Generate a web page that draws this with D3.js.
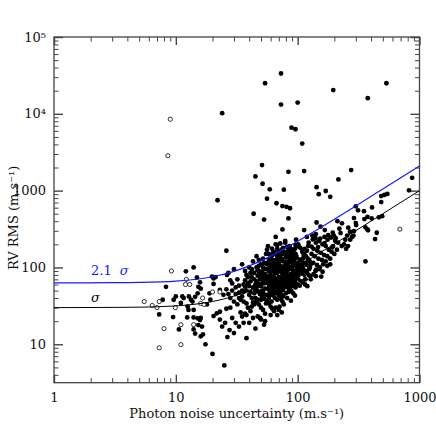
<!DOCTYPE html>
<html>
<head>
<meta charset="utf-8">
<script src="https://cdn.jsdelivr.net/npm/d3@7"></script>
<style>
  body { margin: 0; background: #fff; }
  svg { display: block; }
</style>
</head>
<body>
<svg id="chart"></svg>
<script>
// tick values and labels
const xTicks = [1, 10, 100, 1000];
const xTickLabels = ["1", "10", "100", "1000"];
const yTicks = [10, 100, 1000, 10000, 100000];
const yTickLabels = ["10", "100", "1000", "10⁴", "10⁵"];

// model curves (sigma and 2.1 sigma)
const curvePhoton = [1, 3, 5, 10, 20, 30, 40, 50, 70, 100, 150, 200, 300, 500, 1000];
const sigmaRms = [30, 30.2, 30.4, 31.6, 36, 42.4, 50, 58.3, 76, 104, 153, 202, 301, 501, 1000];
const sigma21Rms = [63, 63.3, 63.8, 66.4, 75.7, 89, 105, 122, 160, 219, 321, 425, 633, 1052, 2100];

// open circles: [photon noise, RV rms]
const openStars = [
  [9.0, 8500], [8.6, 2850], [9.2, 90], [5.5, 36], [6.4, 32], [7.3, 36], [7.0, 30], [9.9, 30],
  [8.0, 16], [7.3, 9.0], [11, 9.9], [11, 18], [12, 60], [13, 60], [12.2, 70], [16, 34],
  [14, 18], [16.6, 40], [108, 74], [690, 315], [17, 33], [20, 48], [23, 48]
];

// filled circles: [photon noise, RV rms]
const filledStars = [
  [24, 10200], [54, 25000], [73, 33500], [73, 13200], [100, 14000], [196, 20400], [376, 16000], [535, 25000],
  [89, 6600], [96, 6300], [109, 4100],
  [51, 2150], [45, 1530], [51.5, 1230], [59, 1040], [77, 1030], [84, 1760], [113, 1800], [143, 1110],
  [149, 900], [170, 990], [185, 830], [216, 1400], [275, 1850], [870, 1470], [820, 1010],
  [485, 850], [515, 880], [545, 905], [485, 710], [300, 625], [313, 555], [350, 540], [408, 605],
  [290, 440], [300, 378], [302, 356], [353, 427], [374, 455], [405, 435], [463, 450], [494, 465],
  [360, 333], [374, 313], [378, 305], [269, 292], [290, 298], [287, 260], [446, 283], [432, 234],
  [246, 229], [259, 190], [360, 120],
  [67, 685], [75, 630], [81, 615], [86.5, 590], [84, 435], [75, 313], [66, 250], [79, 222],
  [212, 400], [231, 375], [143, 385], [154, 340], [167, 307], [178, 263], [194, 283], [203, 222],
  [192, 183], [133, 232], [141, 210], [153, 238], [166, 208], [147, 184], [119, 250], [123, 210],
  [130, 187], [119, 165], [102, 187], [109, 169], [112, 145], [121, 121], [96, 196], [90, 160],
  [97, 144], [105, 125], [109, 104], [97.5, 107], [101, 92], [142, 94], [141, 77], [156, 76],
  [71, 31], [68, 24],
  [22, 750], [56, 785], [43.5, 500], [53, 420], [26, 165], [57, 190], [61.5, 176], [63, 159],
  [20, 7.5], [25, 5.3], [38, 12], [26.5, 12.4], [17.5, 10], [16.7, 13.5], [16.4, 17], [24, 17],
  [25.4, 19], [23, 21], [36, 19], [35, 23], [38, 24], [49, 22], [54, 20], [60, 24],
  [8.3, 56], [7.8, 38], [7.3, 24.5], [9.5, 22.6], [10.6, 15.6], [12.1, 89], [14, 100], [14.9, 74],
  [15.3, 56], [16, 53], [15.1, 46], [9.6, 38], [10, 42], [11, 34.6], [11.3, 42], [11.6, 40],
  [12.8, 42], [13.3, 38], [13.7, 36], [12.5, 31], [12.7, 28], [12.4, 22.4], [14, 22.4], [15.1, 21.8],
  [16, 22], [15.3, 17.8], [14, 15.6], [14.4, 13.8], [16, 12.7],
  [15.8, 64], [14.4, 41.5], [18.9, 46], [20.4, 61], [20.4, 72], [19.8, 76], [21.2, 75], [26.3, 80],
  [28, 68], [23, 51], [24.6, 44], [19.2, 38], [18, 33], [14, 28], [15.8, 20.7], [20.4, 23.3],
  [21.7, 25.3], [23, 26.5], [27.6, 15.3],
  [113, 307], [68, 196], [72, 205], [141, 272], [166, 250],
  // dense core
  [27, 85], [29, 62], [31, 55], [33, 47], [28, 40], [30, 36], [32, 33], [26, 29], [34, 26], [29, 22],
  [31, 19], [33, 17], [30, 14], [27, 45], [32, 70], [34, 38], [28, 30], [26, 52], [33, 58], [30, 95],
  [35, 110], [37, 90], [39, 75], [41, 66], [36, 60], [43, 55], [38, 50], [40, 44], [42, 40], [36, 36],
  [44, 33], [39, 30], [41, 27], [37, 25], [43, 22], [40, 19], [45, 16], [38, 80], [42, 95], [44, 70],
  [36, 48], [40, 57], [44, 46], [35, 42], [38, 34], [42, 31], [45, 60], [37, 68], [43, 120], [41, 85],
  [46, 140], [48, 125], [50, 110], [52, 100], [47, 92], [49, 85], [51, 78], [53, 72], [46, 66], [48, 61],
  [50, 57], [54, 53], [47, 49], [49, 45], [51, 42], [53, 39], [46, 36], [48, 33], [50, 30], [52, 28],
  [54, 25], [47, 23], [50, 21], [53, 18], [55, 150], [49, 70], [52, 64], [54, 82], [46, 55], [51, 50],
  [55, 44], [48, 105], [53, 115], [50, 38], [55, 34],
  [56, 170], [58, 150], [60, 135], [62, 125], [57, 115], [59, 105], [61, 97], [63, 90], [65, 83], [56, 77],
  [58, 71], [60, 66], [62, 61], [64, 57], [57, 53], [59, 49], [61, 46], [63, 43], [65, 40], [56, 37],
  [58, 34], [60, 31], [62, 29], [64, 27], [57, 44], [59, 88], [61, 74], [63, 110], [65, 100], [58, 60],
  [60, 52], [62, 68], [64, 120], [56, 95], [60, 80], [63, 64], [58, 40], [61, 36],
  [66, 200], [68, 175], [70, 160], [72, 145], [74, 130], [76, 120], [67, 110], [69, 102], [71, 95], [73, 88],
  [75, 82], [77, 76], [66, 71], [68, 66], [70, 62], [72, 58], [74, 54], [76, 51], [67, 48], [69, 45],
  [71, 42], [73, 39], [75, 36], [77, 33], [66, 30], [70, 28], [74, 26], [68, 85], [72, 105], [76, 98],
  [70, 75], [74, 68], [66, 58], [78, 63], [68, 140], [72, 125], [76, 150], [70, 52], [74, 44], [77, 90],
  [79, 210], [82, 185], [85, 165], [88, 150], [91, 138], [94, 128], [80, 118], [83, 110], [86, 102], [89, 96],
  [92, 90], [95, 84], [81, 79], [84, 74], [87, 70], [90, 66], [93, 62], [80, 58], [83, 55], [86, 52],
  [89, 49], [92, 46], [95, 43], [82, 40], [88, 37], [84, 94], [90, 115], [93, 105], [80, 135], [86, 125],
  [92, 160], [95, 175], [87, 82], [91, 76], [82, 66],
  [97, 230], [101, 200], [105, 180], [109, 160], [113, 150], [117, 140], [121, 130], [125, 122], [99, 115], [103, 108],
  [107, 100], [111, 95], [115, 90], [119, 86], [123, 80], [127, 77], [100, 72], [105, 68], [110, 64], [115, 60],
  [120, 57], [98, 135], [104, 125], [112, 115], [118, 108], [126, 100], [102, 92], [108, 84], [114, 175], [122, 190],
  [132, 260], [140, 240], [150, 220], [160, 200], [170, 190], [135, 175], [145, 165], [155, 155], [165, 145], [180, 170],
  [190, 160], [138, 140], [148, 130], [158, 125], [170, 120], [185, 130], [134, 115], [144, 108], [152, 100], [162, 110],
  [175, 105], [195, 190], [140, 90], [130, 150], [176, 230], [188, 245], [198, 260],
  [205, 240], [215, 210], [225, 280], [240, 200], [255, 260], [270, 230], [210, 170], [230, 190], [250, 175], [280, 250],
  [220, 320], [260, 330],
  // more of the dense core
  [47, 78], [49, 58], [51, 88], [53, 62], [55, 70], [52, 47], [45, 50], [57, 63], [59, 56], [61, 58],
  [63, 52], [65, 62], [67, 55], [69, 60], [71, 66], [73, 72], [75, 60], [77, 55], [79, 70], [81, 88],
  [83, 64], [85, 60], [87, 58], [89, 72], [91, 84], [93, 72], [95, 66], [97, 80], [99, 95], [101, 78],
  [103, 85], [106, 90], [108, 110], [110, 130], [66, 90], [68, 100], [70, 115], [72, 92], [74, 100], [76, 88],
  [78, 105], [80, 96], [82, 100], [84, 120], [86, 140], [88, 128], [90, 100], [92, 120], [94, 140], [96, 150],
  [58, 125], [60, 110], [62, 100], [64, 75], [66, 125], [68, 120], [70, 135], [72, 160], [74, 170], [76, 180],
  [78, 160], [80, 155], [82, 145], [84, 170], [86, 190], [88, 175], [54, 95], [56, 110], [58, 90], [62, 145],
  [64, 160], [66, 150], [50, 75], [48, 90], [46, 100], [52, 130], [44, 85], [42, 75], [40, 100], [39, 62],
  [37, 56], [35, 50], [33, 40], [31, 45], [29, 50], [45, 40], [47, 38], [43, 35], [41, 48], [60, 44],
  [64, 46], [68, 38], [72, 48], [76, 42], [80, 46], [84, 48], [88, 56], [92, 58], [96, 55], [100, 60],
  [104, 58], [108, 72], [112, 78], [116, 70], [124, 95], [128, 110], [128, 70], [135, 82], [150, 95], [160, 88],
  [175, 140], [200, 150], [185, 110]
];

const render = () => {
  const size = {width: 436, height: 436};
  const frame = {left: 54, right: 419.5, top: 37, bottom: 382.7};
  const axisColor = "#444";
  const font = "'DejaVu Serif', serif";

  const x = d3.scaleLog().domain([1, 1000]).range([frame.left, frame.right]);
  const y = d3.scaleLog().domain([Math.sqrt(10), 1e5]).range([frame.bottom, frame.top]);

  const xMinor = [];
  [1, 10, 100].forEach(d => d3.range(2, 10).forEach(k => xMinor.push(d * k)));
  const yMinor = [];
  [1, 10, 100, 1000, 10000].forEach(d => d3.range(2, 10).forEach(k => {
    if (d * k >= y.domain()[0]) yMinor.push(d * k);
  }));

  const svg = d3.select("#chart")
    .attr("width", size.width)
    .attr("height", size.height)
    .attr("viewBox", `0 0 ${size.width} ${size.height}`);

  const drawAxis = (axis, transform) => svg.append("g")
    .attr("transform", transform)
    .call(axis)
    .call(g => g.select(".domain").remove())
    .call(g => g.selectAll("line").attr("stroke", axisColor))
    .attr("font-family", font)
    .attr("font-size", 13);

  // minor ticks on four sides
  drawAxis(d3.axisBottom(x).tickValues(xMinor).tickSize(-4.5).tickFormat(""), `translate(0,${frame.bottom})`);
  drawAxis(d3.axisTop(x).tickValues(xMinor).tickSize(-4.5).tickFormat(""), `translate(0,${frame.top})`);
  drawAxis(d3.axisLeft(y).tickValues(yMinor).tickSize(-4.5).tickFormat(""), `translate(${frame.left},0)`);
  drawAxis(d3.axisRight(y).tickValues(yMinor).tickSize(-4.5).tickFormat(""), `translate(${frame.right},0)`);

  // major ticks
  const xb = drawAxis(d3.axisBottom(x).tickValues(xTicks).tickSize(-8).tickPadding(10)
    .tickFormat((d, i) => xTickLabels[i]), `translate(0,${frame.bottom})`);
  drawAxis(d3.axisTop(x).tickValues(xTicks).tickSize(-8).tickFormat(""), `translate(0,${frame.top})`);
  const yl = drawAxis(d3.axisLeft(y).tickValues(yTicks).tickSize(-9).tickPadding(8)
    .tickFormat((d, i) => yTickLabels[i]), `translate(${frame.left},0)`);
  drawAxis(d3.axisRight(y).tickValues(yTicks).tickSize(-9).tickFormat(""), `translate(${frame.right},0)`);
  svg.selectAll("g.tick line").filter(d => xTicks.includes(d) || yTicks.includes(d))
    .attr("stroke-width", 1.4);
  xb.selectAll("text").attr("fill", "#111");
  yl.selectAll("text").attr("fill", "#111");

  // frame
  svg.append("rect")
    .attr("x", frame.left)
    .attr("y", frame.top)
    .attr("width", frame.right - frame.left)
    .attr("height", frame.bottom - frame.top)
    .attr("fill", "none")
    .attr("stroke", axisColor)
    .attr("stroke-width", 1.3);

  svg.append("clipPath").attr("id", "plot-clip")
    .append("rect")
    .attr("x", frame.left)
    .attr("y", frame.top)
    .attr("width", frame.right - frame.left)
    .attr("height", frame.bottom - frame.top);

  // points
  svg.append("g")
    .selectAll("circle")
    .data(filledStars)
    .join("circle")
    .attr("cx", d => x(d[0]))
    .attr("cy", d => y(d[1]))
    .attr("r", 2.4)
    .attr("fill", "#000");

  svg.append("g")
    .selectAll("circle")
    .data(openStars)
    .join("circle")
    .attr("cx", d => x(d[0]))
    .attr("cy", d => y(d[1]))
    .attr("r", 2.1)
    .attr("fill", "#fff")
    .attr("stroke", "#000")
    .attr("stroke-width", 0.8);

  // model curves
  const line = vals => d3.line()
    .x((d, i) => x(curvePhoton[i]))
    .y((d, i) => y(vals[i]))
    .curve(d3.curveMonotoneX)(vals);

  const curves = svg.append("g").attr("clip-path", "url(#plot-clip)");
  curves.append("path")
    .attr("d", line(sigmaRms))
    .attr("fill", "none")
    .attr("stroke", "#000")
    .attr("stroke-width", 1);
  curves.append("path")
    .attr("d", line(sigma21Rms))
    .attr("fill", "none")
    .attr("stroke", "#1a1aff")
    .attr("stroke-width", 1.2);

  // curve labels
  svg.append("text")
    .attr("x", 91)
    .attr("y", 275)
    .attr("fill", "#1a1aff")
    .attr("font-family", font)
    .attr("font-size", 13)
    .html("2.1 <tspan font-style='italic' dx='4'>σ</tspan>");
  svg.append("text")
    .attr("x", 91)
    .attr("y", 302)
    .attr("fill", "#000")
    .attr("font-family", font)
    .attr("font-size", 13)
    .attr("font-style", "italic")
    .text("σ");

  // axis titles
  svg.append("text")
    .attr("x", (frame.left + frame.right) / 2)
    .attr("y", 418)
    .attr("text-anchor", "middle")
    .attr("fill", "#111")
    .attr("font-family", font)
    .attr("font-size", 13)
    .text("Photon noise uncertainty (m.s⁻¹)");
  svg.append("text")
    .attr("transform", `translate(18,${(frame.top + frame.bottom) / 2 + 8}) rotate(-90)`)
    .attr("text-anchor", "middle")
    .attr("fill", "#111")
    .attr("font-family", font)
    .attr("font-size", 13)
    .text("RV RMS (m.s⁻¹)");
};

render();
</script>
</body>
</html>
